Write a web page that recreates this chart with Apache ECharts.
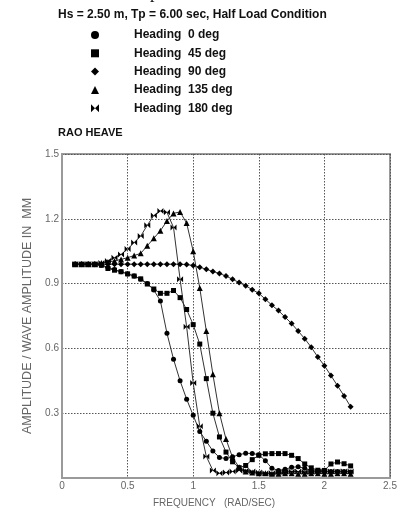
<!DOCTYPE html>
<html>
<head>
<meta charset="utf-8">
<script src="https://cdn.jsdelivr.net/npm/echarts@6/dist/echarts.min.js"></script>
<style>
  html, body { margin: 0; padding: 0; background: #fff; }
  #chart { width: 401px; height: 513px; }
</style>
</head>
<body>
<div id="chart"></div>
<script>
// Wave frequency (rad/s)
const freq = [0.10, 0.15, 0.20, 0.25, 0.30, 0.35, 0.40, 0.45, 0.50, 0.55, 0.60, 0.65, 0.70, 0.75, 0.80,
  0.85, 0.90, 0.95, 1.00, 1.05, 1.10, 1.15, 1.20, 1.25, 1.30, 1.35, 1.40, 1.45, 1.50, 1.55, 1.60,
  1.65, 1.70, 1.75, 1.80, 1.85, 1.90, 1.95, 2.00, 2.05, 2.10, 2.15, 2.20];

// Heave RAO per wave heading
const heading0 = [0.99, 0.99, 0.99, 0.99, 0.985, 0.975, 0.965, 0.955, 0.945, 0.935, 0.92, 0.90, 0.87, 0.82, 0.67,
  0.55, 0.45, 0.365, 0.29, 0.215, 0.17, 0.125, 0.095, 0.09, 0.098, 0.108, 0.115, 0.113, 0.108, 0.08, 0.045,
  0.035, 0.04, 0.05, 0.052, 0.045, 0.035, 0.03, 0.03, 0.03, 0.03, 0.03, 0.028];
const heading45 = [0.99, 0.99, 0.99, 0.99, 0.985, 0.97, 0.962, 0.955, 0.945, 0.935, 0.922, 0.898, 0.875, 0.855, 0.855,
  0.868, 0.835, 0.78, 0.71, 0.62, 0.46, 0.30, 0.19, 0.12, 0.075, 0.048, 0.058, 0.085, 0.105, 0.112, 0.113,
  0.113, 0.113, 0.105, 0.09, 0.065, 0.047, 0.036, 0.035, 0.065, 0.074, 0.066, 0.056];
const heading90 = [0.99, 0.99, 0.99, 0.99, 0.99, 0.99, 0.99, 0.99, 0.99, 0.99, 0.99, 0.99, 0.99, 0.99, 0.99,
  0.99, 0.99, 0.988, 0.984, 0.976, 0.966, 0.956, 0.947, 0.935, 0.92, 0.905, 0.89, 0.872, 0.855, 0.828, 0.80,
  0.775, 0.745, 0.715, 0.68, 0.645, 0.605, 0.56, 0.52, 0.474, 0.427, 0.38, 0.33];
const heading135 = [0.99, 0.99, 0.99, 0.99, 0.995, 1.0, 1.005, 1.012, 1.02, 1.03, 1.04, 1.075, 1.11, 1.145, 1.19,
  1.225, 1.232, 1.18, 1.05, 0.88, 0.68, 0.48, 0.30, 0.18, 0.095, 0.05, 0.03, 0.025, 0.022, 0.022, 0.02,
  0.02, 0.022, 0.022, 0.02, 0.02, 0.022, 0.022, 0.02, 0.02, 0.022, 0.022, 0.02];
const heading180 = [0.99, 0.99, 0.99, 0.99, 0.995, 1.005, 1.02, 1.035, 1.06, 1.09, 1.12, 1.17, 1.215, 1.236, 1.23,
  1.16, 0.92, 0.70, 0.44, 0.24, 0.10, 0.035, 0.022, 0.025, 0.03, 0.035, 0.035, 0.03, 0.025, 0.022, 0.022,
  0.025, 0.028, 0.03, 0.03, 0.028, 0.028, 0.03, 0.03, 0.03, 0.03, 0.03, 0.03];

const headingNames = ['Heading  0 deg', 'Heading  45 deg', 'Heading  90 deg', 'Heading  135 deg', 'Heading  180 deg'];
const bowtie = 'path://M0,0L5,5L0,10Z M10,0L5,5L10,10Z';
const symbols = ['circle', 'rect', 'diamond', 'triangle', bowtie];
const symbolSizes = [5, 5, 6, 6, 6];
const seriesValues = [heading0, heading45, heading90, heading135, heading180];

const xTicks = [0, 0.5, 1, 1.5, 2, 2.5];
const yTicks = [0, 0.3, 0.6, 0.9, 1.2, 1.5];

const chart = echarts.init(document.getElementById('chart'), null, { renderer: 'canvas' });

const axisGrey = '#9a9a9a';
const labelGrey = '#666';
const font = 'Liberation Sans, Arial, sans-serif';

chart.setOption({
  animation: false,
  backgroundColor: '#fff',
  title: {
    text: 'Hs = 2.50 m, Tp = 6.00 sec, Half Load Condition',
    left: 58,
    top: 9,
    padding: 0,
    textStyle: { fontFamily: font, fontSize: 12, fontWeight: 'bold', color: '#111' }
  },
  legend: {
    orient: 'vertical',
    left: 91,
    top: 28,
    padding: 0,
    itemWidth: 8,
    itemHeight: 8,
    itemGap: 4.3,
    selectedMode: false,
    data: headingNames.map((n, i) => ({ name: n, icon: symbols[i] })),
    textStyle: { fontFamily: font, fontSize: 12, fontWeight: 'bold', color: '#111', lineHeight: 14, padding: [0, 0, 0, 30] },
    itemStyle: { color: '#000' }
  },
  graphic: [{
    // tail of the page heading line above, cut by the top edge
    type: 'text',
    left: 150,
    top: -16,
    style: { text: 'p', font: '18px Liberation Serif, serif', fill: '#111' }
  }, {
    type: 'text',
    left: 58,
    top: 127,
    style: { text: 'RAO HEAVE', font: 'bold 11px ' + font, fill: '#111' }
  }],
  grid: {
    left: 62, right: 11, top: 154, bottom: 31,
    show: true, borderColor: axisGrey, borderWidth: 2, containLabel: false
  },
  xAxis: {
    type: 'value',
    min: xTicks[0], max: xTicks[xTicks.length - 1], interval: 0.5,
    name: 'FREQUENCY   (RAD/SEC)',
    nameLocation: 'middle',
    nameGap: 20,
    nameTextStyle: { fontFamily: font, fontSize: 10, color: labelGrey, padding: [0, 24, 0, 0] },
    axisLine: { lineStyle: { color: axisGrey, width: 2 } },
    axisTick: { show: false },
    axisLabel: { fontFamily: font, fontSize: 10, color: labelGrey, margin: 3 },
    splitLine: { show: true, lineStyle: { color: '#555', type: [1.5, 1.5], width: 1 } }
  },
  yAxis: {
    type: 'value',
    min: yTicks[0], max: yTicks[yTicks.length - 1], interval: 0.3,
    name: 'AMPLITUDE / WAVE AMPLITUDE IN  MM',
    nameLocation: 'middle',
    nameGap: 28,
    nameTextStyle: { fontFamily: font, fontSize: 12.5, color: labelGrey },
    axisLine: { show: true, lineStyle: { color: axisGrey, width: 2 } },
    axisTick: { show: false },
    axisLabel: {
      fontFamily: font, fontSize: 10, color: labelGrey, margin: 3,
      formatter: v => (v === 0 ? '' : String(+v.toFixed(1)))
    },
    splitLine: { show: true, lineStyle: { color: '#555', type: [1.5, 1.5], width: 1 } }
  },
  series: seriesValues.map((vals, i) => ({
    name: headingNames[i],
    type: 'line',
    data: freq.map((f, k) => [f, vals[k]]),
    symbol: symbols[i],
    symbolSize: symbolSizes[i],
    showAllSymbol: true,
    lineStyle: { color: '#333', width: 1 },
    itemStyle: { color: '#000', borderWidth: 0 },
    z: 3
  }))
});
</script>
</body>
</html>
